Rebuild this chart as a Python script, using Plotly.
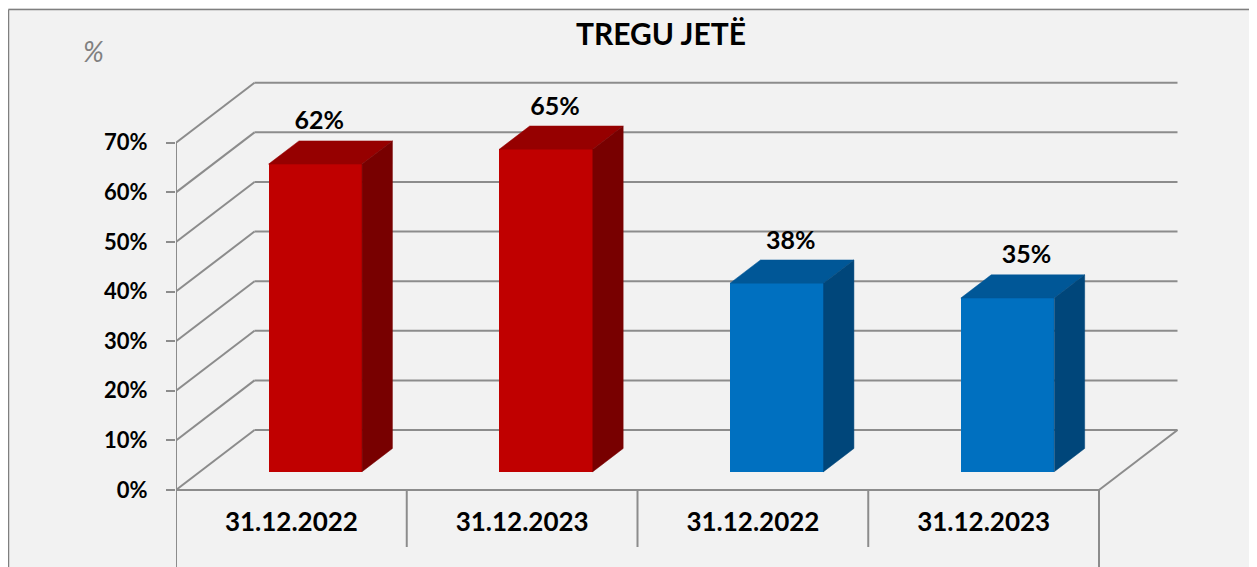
import plotly.graph_objects as go

# ---------------- data ----------------
categories = ["31.12.2022", "31.12.2023", "31.12.2022", "31.12.2023"]
values = [62, 65, 38, 35]
value_labels = ["62%", "65%", "38%", "35%"]
y_ticks = [0, 10, 20, 30, 40, 50, 60, 70]
y_tick_labels = ["0%", "10%", "20%", "30%", "40%", "50%", "60%", "70%"]
title_text = "TREGU JETË"
unit_text = "%"

# ---------------- styles ----------------
front_colors = ["#C00000", "#C00000", "#0070C0", "#0070C0"]
top_colors = ["#960000", "#960000", "#005797", "#005797"]
side_colors = ["#780000", "#780000", "#00467A", "#00467A"]
GRID = "#8c8c8c"
BG = "#f2f2f2"
FONT = "Lato"

W, H = 1257, 567
OX, OY = 8, 8            # page body margin offset
X0_S, Y0_S = 176, 490     # screen px of front-plane origin
CAT_PX = 230.75           # px per category
PX_PCT = 4.961            # px per percent
DEPTH_DX_PX, DEPTH_DY_PX = 78.5, 60.0

l = X0_S - OX
r = 8
t = 30
b = 0
plot_w = W - l - r
plot_h = H - t - b
y0_fig = Y0_S - OY
xr = [0, plot_w / CAT_PX]
yr = [-(H - b - y0_fig) / PX_PCT, (y0_fig - t) / PX_PCT]

DX = DEPTH_DX_PX / CAT_PX
DY = DEPTH_DY_PX / PX_PCT
F1, F2, BW = 0.305, 0.387, 0.405
n = len(categories)
sep_bottom = (Y0_S - 547) / PX_PCT


def px_to_paper(sx, sy):
    fx, fy = sx - OX, sy - OY
    return (fx - l) / plot_w, (H - b - fy) / plot_h


shapes = []
line = dict(color=GRID, width=2)
for v in y_ticks:
    shapes.append(dict(type="line", xref="x", yref="y", x0=0, y0=v, x1=DX, y1=v + DY, line=line, layer="below"))
    shapes.append(dict(type="line", xref="x", yref="y", x0=DX, y0=v + DY, x1=n + DX, y1=v + DY, line=line, layer="below"))
# front axis lines
shapes.append(dict(type="line", xref="x", yref="y", x0=0, y0=max(y_ticks), x1=0, y1=yr[0], line=line, layer="below"))
shapes.append(dict(type="line", xref="x", yref="y", x0=0, y0=0, x1=n, y1=0, line=line, layer="below"))
shapes.append(dict(type="line", xref="x", yref="y", x0=n, y0=0, x1=n, y1=yr[0], line=line, layer="below"))
shapes.append(dict(type="line", xref="x", yref="y", x0=n, y0=0, x1=n + DX, y1=DY, line=line, layer="below"))
for i in range(1, n):
    shapes.append(dict(type="line", xref="x", yref="y", x0=i, y0=0, x1=i, y1=sep_bottom, line=line, layer="below"))

# outer border
bx0, by0 = px_to_paper(8.5, 9.5)
bx1, by1 = px_to_paper(W + 20, H + 20)
shapes.append(dict(type="line", xref="paper", yref="paper", x0=bx0, y0=by0, x1=bx1, y1=by0, line=dict(color="#7f7f7f", width=1.5)))
shapes.append(dict(type="line", xref="paper", yref="paper", x0=bx0, y0=by0, x1=bx0, y1=by1, line=dict(color="#7f7f7f", width=1.5)))

fig = go.Figure()

base = F1 * DY
xc = [i + 0.5 + F1 * DX for i in range(n)]
fig.add_trace(go.Bar(
    x=xc, y=values, base=[base] * n, width=BW,
    marker=dict(color=front_colors, line=dict(width=0)),
    hoverinfo="skip", showlegend=False,
))

ddx, ddy = F2 * DX, F2 * DY
for i, v in enumerate(values):
    xl, xrr = xc[i] - BW / 2, xc[i] + BW / 2
    yt = base + v
    fig.add_trace(go.Scatter(
        x=[xl, xrr, xrr + ddx, xl + ddx, xl], y=[yt, yt, yt + ddy, yt + ddy, yt],
        fill="toself", fillcolor=top_colors[i], mode="lines",
        line=dict(width=0.5, color=top_colors[i]), hoverinfo="skip", showlegend=False))
    fig.add_trace(go.Scatter(
        x=[xrr, xrr, xrr + ddx, xrr + ddx, xrr], y=[base, yt, yt + ddy, base + ddy, base],
        fill="toself", fillcolor=side_colors[i], mode="lines",
        line=dict(width=0.5, color=side_colors[i]), hoverinfo="skip", showlegend=False))

lab_x = [xc[i] + (4 + 5 * i) / CAT_PX for i in range(n)]
lab_y = [base + v + ddy + 17.7 / PX_PCT for v in values]
fig.add_trace(go.Scatter(
    x=lab_x, y=lab_y, mode="text", text=value_labels, textposition="middle center",
    textfont=dict(family=FONT, size=25, color="#000000", weight="bold"),
    hoverinfo="skip", showlegend=False, cliponaxis=False))

tx, ty = px_to_paper(661, 33)
ux, uy = px_to_paper(93, 51)
annotations = [
    dict(text=title_text, x=tx, y=ty, xref="paper", yref="paper", xanchor="center", yanchor="middle",
         showarrow=False, font=dict(family=FONT, size=30, color="#000000", weight="bold")),
    dict(text="<i>" + unit_text + "</i>", x=ux, y=uy, xref="paper", yref="paper", xanchor="center",
         yanchor="middle", showarrow=False, font=dict(family=FONT, size=28, color="#808080")),
]

fig.update_layout(
    width=W, height=H,
    margin=dict(l=l, r=r, t=t, b=b, autoexpand=False),
    paper_bgcolor=BG, plot_bgcolor=BG,
    shapes=shapes, annotations=annotations,
    showlegend=False, bargap=0,
    xaxis=dict(range=xr, anchor="free", position=(0 - yr[0]) / (yr[1] - yr[0]),
               tickvals=[i + 0.5 for i in range(n)], ticktext=categories,
               showgrid=False, zeroline=False, showline=False, ticks="",
               tickfont=dict(family=FONT, size=26, color="#000000", weight="bold"),
               ticklabelstandoff=14, fixedrange=True, automargin=False),
    yaxis=dict(range=yr, tickvals=y_ticks, ticktext=y_tick_labels,
               showgrid=False, zeroline=False, showline=False,
               ticks="outside", ticklen=9, tickwidth=2, tickcolor=GRID,
               tickfont=dict(family=FONT, size=22, color="#000000", weight="bold"),
               ticklabelstandoff=14, fixedrange=True, automargin=False),
)

fig.write_html("out.html")
